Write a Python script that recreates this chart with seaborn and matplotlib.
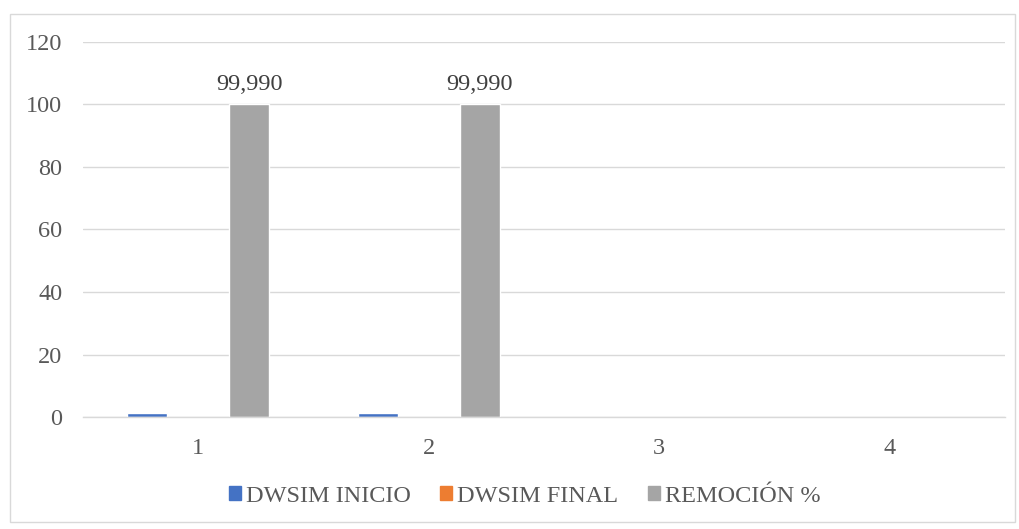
import matplotlib
matplotlib.use("Agg")
import matplotlib.pyplot as plt
import matplotlib.patches as mpatches
import seaborn as sns
import pandas as pd

categories = ["1", "2", "3", "4"]
series_names = ["DWSIM INICIO", "DWSIM FINAL", "REMOCIÓN %"]
dwsim_inicio = [1.4, 1.4, 0, 0]
dwsim_final = [0.0001, 0.0001, 0, 0]
remocion = [99.99, 99.99, 0, 0]
remocion_labels = ["99,990", "99,990", "", ""]
y_ticks = [0, 20, 40, 60, 80, 100, 120]
colors = ["#4472C4", "#ED7D31", "#A5A5A5"]

df = pd.DataFrame({
    "cat": categories * 3,
    "serie": [series_names[0]] * 4 + [series_names[1]] * 4 + [series_names[2]] * 4,
    "valor": dwsim_inicio + dwsim_final + remocion,
})

sns.set_theme(style="white")
plt.rcParams["font.family"] = ["Liberation Serif", "DejaVu Serif"]

fs = 17.5
fig = plt.figure(figsize=(10.19, 5.29), dpi=100)
ax = fig.add_axes([0.0815, 0.2117, 0.9045, 0.709])

sns.barplot(data=df, x="cat", y="valor", hue="serie", order=categories,
            hue_order=series_names, palette=colors, width=0.665, gap=0.22,
            saturation=1, ax=ax, legend=False, errorbar=None)

ax.set_ylim(0, 120)
ax.set_yticks(y_ticks)
ax.set_xlim(-0.5, 3.5)
ax.grid(axis="y", color="#D9D9D9", linewidth=1)
ax.set_axisbelow(True)
for s in ["left", "right", "top"]:
    ax.spines[s].set_visible(False)
ax.spines["bottom"].set_color("#D9D9D9")
ax.spines["bottom"].set_linewidth(1)
ax.tick_params(axis="both", length=0, labelsize=fs, colors="#595959")
ax.tick_params(axis="y", pad=15)
ax.tick_params(axis="x", pad=15)
ax.set_xlabel("")
ax.set_ylabel("")

# value labels on the removal bars
ax.bar_label(ax.containers[2], labels=remocion_labels, padding=7,
             fontsize=fs, color="#404040")

handles = [mpatches.Patch(color=c, label=n) for c, n in zip(colors, series_names)]
fig.legend(handles=handles, loc="center", bbox_to_anchor=(0.515, 0.062), ncol=3,
           frameon=False, fontsize=fs, handlelength=0.5, handleheight=0.5,
           handletextpad=0.2, columnspacing=1.2, labelcolor="#595959")

fig.patches.append(mpatches.Rectangle((0.0098, 0.0132), 0.986, 0.96,
                                      transform=fig.transFigure, fill=False,
                                      edgecolor="#D9D9D9", linewidth=1))

fig.savefig("out.png", dpi=100)
